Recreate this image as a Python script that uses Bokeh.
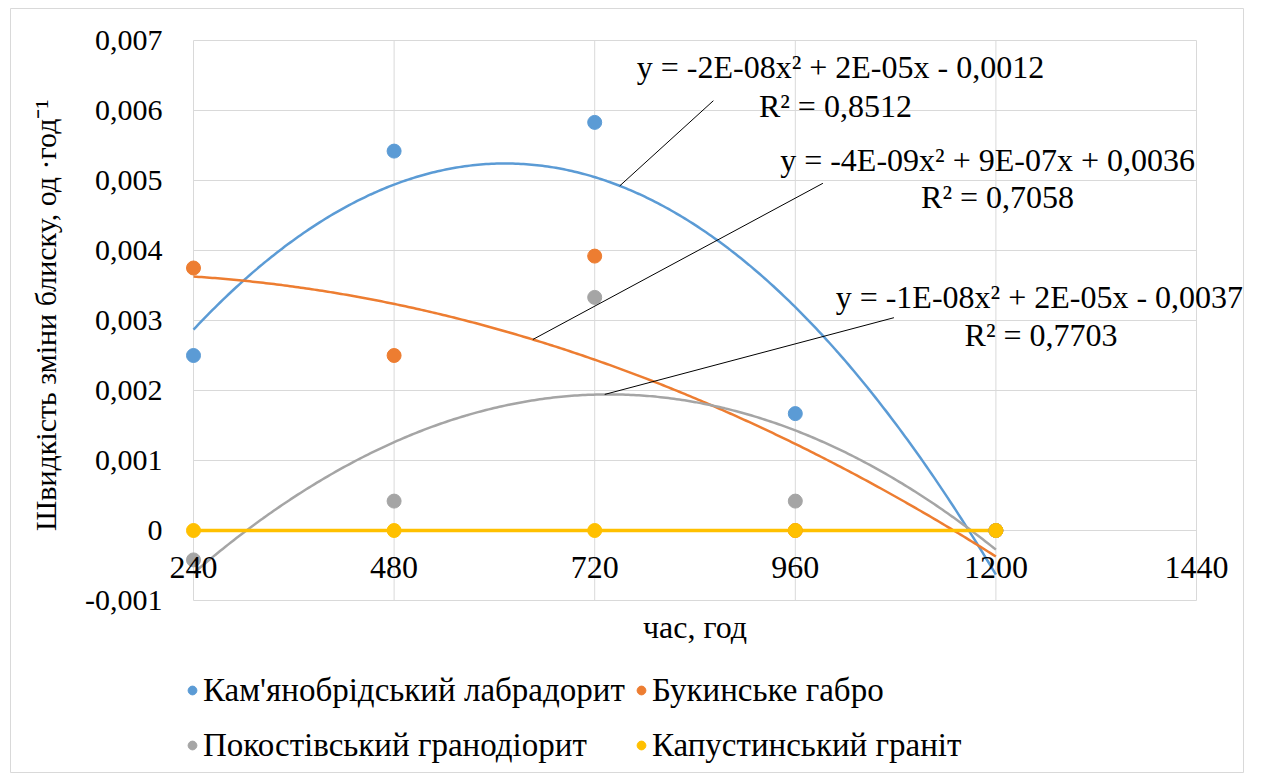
from bokeh.plotting import figure
from bokeh.models import (Range1d, FixedTicker, LinearAxis, Legend, LegendItem,
                          ColumnDataSource, LabelSet, Grid)
from bokeh.embed import file_html
from bokeh.resources import INLINE
import numpy as np

# ---- data ----
hours = [240, 480, 720, 960, 1200]
labradorite = [0.0025, 0.00542, 0.00583, 0.00167, 0.0]
gabbro = [0.00375, 0.0025, 0.00392, 0.0, 0.0]
granodiorite = [-0.00042, 0.00042, 0.00333, 0.00042, 0.0]
granite = [0.0, 0.0, 0.0, 0.0, 0.0]

series_names = ["Кам'янобрідський лабрадорит", "Букинське габро",
                "Покостівський гранодіорит", "Капустинський граніт"]
series_values = [labradorite, gabbro, granodiorite, granite]
series_colors = ["#5B9BD5", "#ED7D31", "#A5A5A5", "#FFC000"]

x_ticks = [240, 480, 720, 960, 1200, 1440]
x_tick_labels = ["240", "480", "720", "960", "1200", "1440"]
y_ticks = [-0.001, 0.0, 0.001, 0.002, 0.003, 0.004, 0.005, 0.006, 0.007]
y_tick_labels = ["-0,001", "0", "0,001", "0,002", "0,003", "0,004", "0,005", "0,006", "0,007"]

eq_texts = ["y = -2E-08x² + 2E-05x - 0,0012",
            "y = -4E-09x² + 9E-07x + 0,0036",
            "y = -1E-08x² + 2E-05x - 0,0037"]
r2_texts = ["R² = 0,8512", "R² = 0,7058", "R² = 0,7703"]
# label anchor positions (data coords)
eq_x = [1014, 1190, 1252]
eq_y = [0.00662, 0.00529, 0.00333]
r2_x = [1008, 1202, 1254]
r2_y = [0.00606, 0.00476, 0.0028]
# leader lines: start on curve at x, end near label
lead_x0 = [750, 646, 732]
lead_x1 = [862, 993, 1078]
lead_y1 = [0.00614, 0.00496, 0.00304]

FONT = "Liberation Serif"
GRID = "#D9D9D9"

# ---- layout (pixels) ----
W, H = 1261, 773
FL, FR, FT, FB = 10, 1243, 8, 773          # frame edges (chart-area border)
PX0, PX1 = 193, 1196                        # plot area left/right
PY_TOP, PY_BOT = 40, 600                    # plot area top/bottom
YTITLE_SHIFT = 18                           # px the y title sits above plot centre (x2)
xmin, xmax = x_ticks[0], x_ticks[-1]
ymin, ymax = y_ticks[0], y_ticks[-1]
ux = (xmax - xmin) / (PX1 - PX0)
uy = (ymax - ymin) / (PY_BOT - PY_TOP)
x_range = Range1d(xmin - (PX0 - FL) * ux, xmax + (FR - PX1) * ux)
y_range = Range1d(ymin - (FB - PY_BOT) * uy, ymax + (PY_TOP - FT) * uy)

p = figure(width=W, height=H, output_backend="svg", toolbar_location=None,
           x_range=x_range, y_range=y_range,
           x_axis_location=None, y_axis_location=None,
           min_border_left=FL, min_border_right=W - FR, min_border_top=FT,
           min_border_bottom=H - FB, background_fill_color="white",
           border_fill_color="white", outline_line_color=GRID)

# drop the default full-frame grids
p.center = [r for r in p.center if not isinstance(r, Grid)]

# gridlines limited to the plot area
p.segment(x0=x_ticks, y0=[ymin] * len(x_ticks), x1=x_ticks, y1=[ymax] * len(x_ticks),
          line_color=GRID, line_width=1, level="underlay")
p.segment(x0=[xmin] * len(y_ticks), y0=y_ticks, x1=[xmax] * len(y_ticks), y1=y_ticks,
          line_color=GRID, line_width=1, level="underlay")

# y axis at x = 240
ya = LinearAxis(fixed_location=xmin, ticker=FixedTicker(ticks=y_ticks),
                bounds=(ymin, ymax + YTITLE_SHIFT * uy),
                major_label_overrides=dict(zip(y_ticks, y_tick_labels)))
ya.axis_line_color = None
ya.major_tick_line_color = None
ya.minor_tick_line_color = None
ya.major_label_text_font = FONT
ya.major_label_text_font_size = "30px"
ya.major_label_text_color = "black"
ya.major_label_standoff = 25
ya.axis_label = "Швидкість зміни блиску,  од ·год⁻¹"
ya.axis_label_text_font = FONT
ya.axis_label_text_font_size = "30px"
ya.axis_label_text_font_style = "normal"
ya.axis_label_text_color = "black"
ya.axis_label_standoff = 20
p.add_layout(ya, "left")

# x axis crossing at y = 0
xa = LinearAxis(fixed_location=0, ticker=FixedTicker(ticks=x_ticks),
                bounds=(xmin, xmax),
                major_label_overrides=dict(zip(x_ticks, x_tick_labels)))
xa.axis_line_color = None
xa.major_tick_line_color = None
xa.minor_tick_line_color = None
xa.major_label_text_font = FONT
xa.major_label_text_font_size = "32px"
xa.major_label_text_color = "black"
xa.major_label_standoff = 20
xa.axis_label = "час, год"
xa.axis_label_text_font = FONT
xa.axis_label_text_font_size = "32px"
xa.axis_label_text_font_style = "normal"
xa.axis_label_text_color = "black"
xa.axis_label_standoff = 28
p.add_layout(xa, "below")

# trendlines and points
xs = np.array(hours, dtype=float)
xfit = np.linspace(hours[0], hours[-1], 300)
scatter_renderers = []
coefs_all = []
for vals, col in zip(series_values, series_colors):
    c = np.polyfit(xs, np.array(vals), 2)
    coefs_all.append(c)
    lw = 3.5 if col == "#FFC000" else 2.5
    p.line(xfit, np.polyval(c, xfit), line_color=col, line_width=lw)
for vals, col in zip(series_values, series_colors):
    r = p.scatter(hours, vals, size=14, fill_color=col, line_color=col)
    scatter_renderers.append(r)

# leader lines
lead_y0 = [float(np.polyval(coefs_all[i], lead_x0[i])) for i in range(3)]
p.segment(x0=lead_x0, y0=lead_y0, x1=lead_x1, y1=lead_y1,
          line_color="black", line_width=1)

# equation labels
eq_src = ColumnDataSource(dict(x=eq_x + r2_x, y=eq_y + r2_y, t=eq_texts + r2_texts))
p.add_layout(LabelSet(x="x", y="y", text="t", source=eq_src, text_align="center",
                      text_baseline="middle", text_font=FONT,
                      text_font_size="32px", text_color="black"))

legend = Legend(items=[LegendItem(label=n, renderers=[r])
                       for n, r in zip(series_names, scatter_renderers)],
                location=(171, 3), orientation="horizontal", ncols=2)
legend.label_text_font = FONT
legend.label_text_font_size = "33px"
legend.label_text_color = "black"
legend.glyph_width = 22
legend.glyph_height = 24
legend.label_height = 50
legend.label_standoff = 0
legend.spacing = 5
legend.padding = 0
legend.margin = 0
legend.border_line_color = None
legend.background_fill_alpha = 0
p.add_layout(legend, "center")

open("out.html", "w").write(file_html(p, INLINE))
